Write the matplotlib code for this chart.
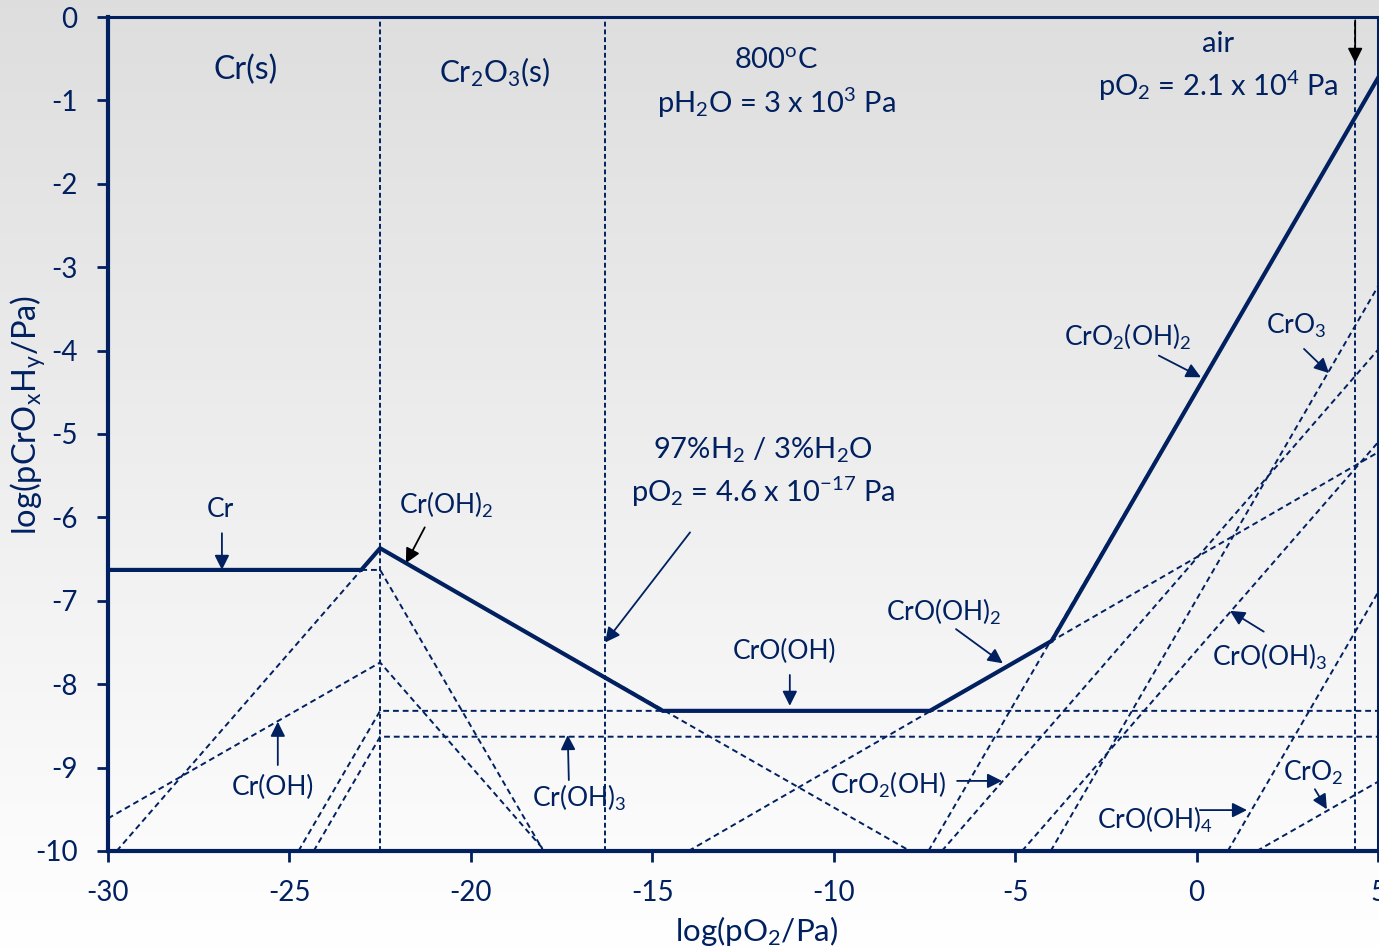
import matplotlib
matplotlib.use("Agg")
import matplotlib.pyplot as plt
import numpy as np

plt.rcParams['font.family'] = ['Lato', 'DejaVu Sans']
plt.rcParams['mathtext.default'] = 'regular'

NAVY = '#002060'

# stable (solid) boundary
solid_x = [-30, -23.02, -22.5, -14.71, -7.35, -3.99, 5]
solid_y = [-6.63, -6.63, -6.37, -8.32, -8.32, -7.48, -0.73]

# individual species lines (dashed)
cr_x, cr_y = [-23.02, -22.5, -18.0], [-6.63, -6.63, -10]
cr_oh_x, cr_oh_y = [-30, -22.5, -17.96], [-9.61, -7.74, -10]
cr_oh2_x, cr_oh2_y = [-29.76, -22.5, -7.9], [-10, -6.37, -10]
cr_oh3_x, cr_oh3_y = [-24.33, -22.5, 5], [-10, -8.63, -8.63]
cro_oh_x, cro_oh_y = [-24.75, -22.5, 5], [-10, -8.32, -8.32]
cro_oh2_x, cro_oh2_y = [-14.0, 5], [-10, -5.22]
cro2_oh2_x, cro2_oh2_y = [-7.39, 5], [-10, -0.73]
cro2_oh_x, cro2_oh_y = [-7.02, 5], [-10, -3.99]
cro3_x, cro3_y = [-4.02, 5], [-10, -3.23]
cro_oh3_x, cro_oh3_y = [-4.81, 5], [-10, -5.10]
cro_oh4_x, cro_oh4_y = [0.86, 5], [-10, -6.9]
cro2_x, cro2_y = [1.66, 5], [-10, -9.17]

# phase boundary / gas composition markers
vlines_x = [-22.5, -16.3, 4.37]

xticks = [-30, -25, -20, -15, -10, -5, 0, 5]
yticks = [0, -1, -2, -3, -4, -5, -6, -7, -8, -9, -10]

fig = plt.figure(figsize=(13.79, 9.51), dpi=100)

# grey-to-white background
bg = fig.add_axes([0, 0, 1, 1], zorder=-10)
grad = np.linspace(0.87, 1.0, 256).reshape(-1, 1)
bg.imshow(np.dstack([grad, grad, grad]), aspect='auto', extent=[0, 1, 0, 1])
bg.axis('off')

ax = fig.add_axes([0.0783, 0.1052, 0.9210, 0.8769])
ax.patch.set_alpha(0)

dash = (0, (3, 2))
dashed = [(cr_x, cr_y), (cr_oh_x, cr_oh_y), (cr_oh2_x, cr_oh2_y),
          (cr_oh3_x, cr_oh3_y), (cro_oh_x, cro_oh_y), (cro_oh2_x, cro_oh2_y),
          (cro2_oh2_x, cro2_oh2_y), (cro2_oh_x, cro2_oh_y), (cro3_x, cro3_y),
          (cro_oh3_x, cro_oh3_y), (cro_oh4_x, cro_oh4_y), (cro2_x, cro2_y)]
for xs, ys in dashed:
    ax.plot(xs, ys, color=NAVY, lw=1.4, ls=dash)

for xv in vlines_x:
    ax.plot([xv, xv], [-10, 0], color=NAVY, lw=1.4, ls=(0, (2.5, 1.5)))

ax.plot(solid_x, solid_y, color=NAVY, lw=3, solid_joinstyle='miter', zorder=5)

ax.set_xlim(-30, 5)
ax.set_ylim(-10, 0)
ax.set_xticks(xticks)
ax.set_yticks(yticks)
ax.set_xticklabels([str(t) for t in xticks])
ax.set_yticklabels([str(t) for t in yticks])
ax.tick_params(axis='both', colors=NAVY, labelsize=20, width=2, length=8,
               direction='out')
ax.tick_params(axis='x', pad=13)
ax.tick_params(axis='y', pad=14)
for s in ['left', 'bottom']:
    ax.spines[s].set_linewidth(3)
    ax.spines[s].set_color(NAVY)
for s in ['top', 'right']:
    ax.spines[s].set_linewidth(2.2)
    ax.spines[s].set_color(NAVY)

fig.text(0.549, 0.010, 'log(pO$_2$/Pa)', color=NAVY, fontsize=22.5,
         ha='center', va='baseline')
fig.text(0.020, 0.564, 'log(pCrO$_x$H$_y$/Pa)', color=NAVY, fontsize=23.5,
         ha='center', va='center', rotation=90)

tk = dict(color=NAVY, fontsize=19, ha='center', va='center')
hd = dict(tk, fontsize=21)
ax.text(-26.2, -0.64, 'Cr(s)', **dict(tk, fontsize=23))
ax.text(-19.36, -0.66, 'Cr$_2$O$_3$(s)', **dict(tk, fontsize=21.5))
ax.text(-11.59, -0.52, '800$^o$C', **hd)
ax.text(-11.59, -1.03, 'pH$_2$O = 3 x 10$^3$ Pa', **hd)
ax.text(0.59, -0.32, 'air', **hd)
ax.text(0.59, -0.82, 'pO$_2$ = 2.1 x 10$^4$ Pa', **hd)
ax.text(-11.95, -5.19, '97%H$_2$ / 3%H$_2$O', **hd)
ax.text(-11.95, -5.70, 'pO$_2$ = 4.6 x 10$^{-17}$ Pa', **hd)


def arrow(x0, y0, x1, y1, color=NAVY, lw=1.3):
    ax.annotate('', xy=(x1, y1), xytext=(x0, y0),
                arrowprops=dict(arrowstyle='-|>', color=color, lw=lw,
                                mutation_scale=22, shrinkA=0, shrinkB=0))


arrow(4.37, -0.04, 4.37, -0.55, color='black')
arrow(-13.96, -6.18, -16.3, -7.5)

labels = [
    ('Cr', -26.89, -5.91, (-26.86, -6.19, -26.86, -6.63)),
    ('Cr(OH)$_2$', -20.69, -5.85, (-21.27, -6.12, -21.79, -6.55)),
    ('Cr(OH)', -25.45, -9.24, (-25.32, -8.97, -25.32, -8.45)),
    ('Cr(OH)$_3$', -17.0, -9.36, (-17.3, -9.15, -17.33, -8.61)),
    ('CrO(OH)', -11.37, -7.61, (-11.21, -7.89, -11.21, -8.26)),
    ('CrO$_2$(OH)', -8.51, -9.21, (-6.6, -9.16, -5.36, -9.16)),
    ('CrO(OH)$_2$', -6.96, -7.13, (-6.63, -7.34, -5.34, -7.75)),
    ('CrO$_2$(OH)$_2$', -1.89, -3.83, (-1.04, -4.06, 0.12, -4.32)),
    ('CrO$_3$', 2.74, -3.70, (2.96, -3.98, 3.65, -4.27)),
    ('CrO(OH)$_3$', 2.02, -7.67, (1.85, -7.37, 0.92, -7.12)),
    ('CrO$_2$', 3.2, -9.06, (3.26, -9.26, 3.59, -9.50)),
    ('CrO(OH)$_4$', -1.15, -9.63, (0.09, -9.51, 1.39, -9.51)),
]
for name, lx, ly, (x0, y0, x1, y1) in labels:
    ax.text(lx, ly, name, **tk)
    arrow(x0, y0, x1, y1, color='black' if name == 'Cr(OH)$_2$' else NAVY)

fig.savefig('out.png', dpi=100)
